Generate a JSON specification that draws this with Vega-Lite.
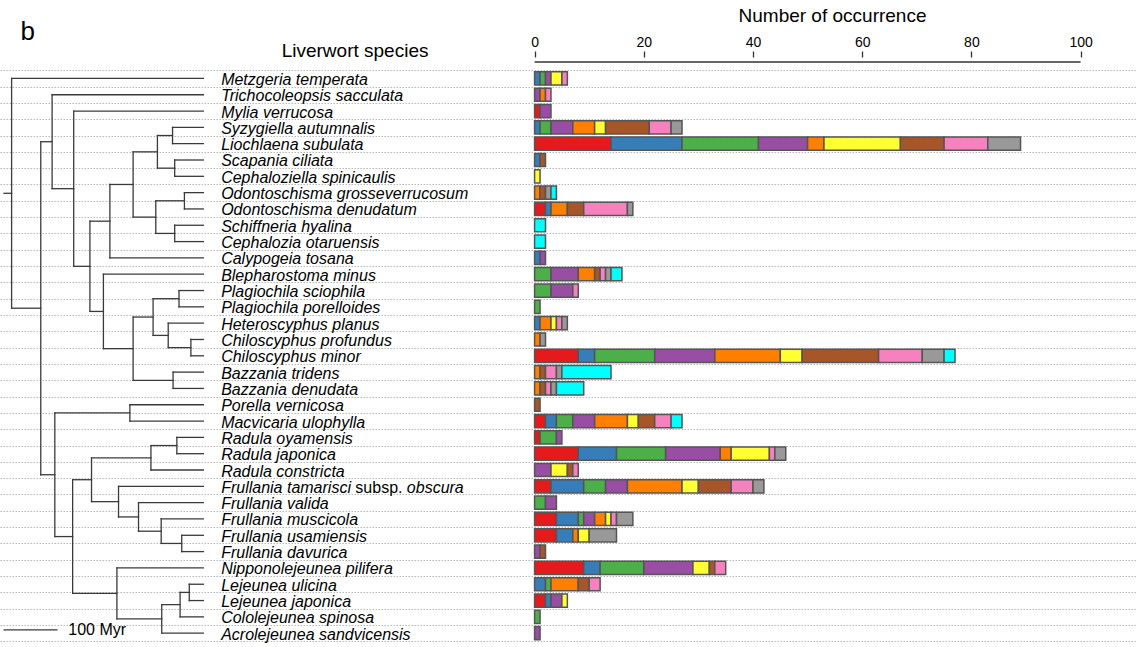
{
  "$schema": "https://vega.github.io/schema/vega-lite/v6.json",
  "width": 1137,
  "height": 590,
  "autosize": {"type": "none"},
  "padding": {"top": 57, "left": 0, "right": 0, "bottom": 0},
  "background": "white",
  "config": {"view": {"stroke": null}, "font": "Liberation Sans"},
  "resolve": {"scale": {"x": "independent"}},
  "datasets": {
    "species": [
      {"row": 0, "name": "Metzgeria temperata"},
      {"row": 1, "name": "Trichocoleopsis sacculata"},
      {"row": 2, "name": "Mylia verrucosa"},
      {"row": 3, "name": "Syzygiella autumnalis"},
      {"row": 4, "name": "Liochlaena subulata"},
      {"row": 5, "name": "Scapania ciliata"},
      {"row": 6, "name": "Cephaloziella spinicaulis"},
      {"row": 7, "name": "Odontoschisma grosseverrucosum"},
      {"row": 8, "name": "Odontoschisma denudatum"},
      {"row": 9, "name": "Schiffneria hyalina"},
      {"row": 10, "name": "Cephalozia otaruensis"},
      {"row": 11, "name": "Calypogeia tosana"},
      {"row": 12, "name": "Blepharostoma minus"},
      {"row": 13, "name": "Plagiochila sciophila"},
      {"row": 14, "name": "Plagiochila porelloides"},
      {"row": 15, "name": "Heteroscyphus planus"},
      {"row": 16, "name": "Chiloscyphus profundus"},
      {"row": 17, "name": "Chiloscyphus minor"},
      {"row": 18, "name": "Bazzania tridens"},
      {"row": 19, "name": "Bazzania denudata"},
      {"row": 20, "name": "Porella vernicosa"},
      {"row": 21, "name": "Macvicaria ulophylla"},
      {"row": 22, "name": "Radula oyamensis"},
      {"row": 23, "name": "Radula japonica"},
      {"row": 24, "name": "Radula constricta"},
      {"row": 25, "name": "Frullania tamarisci"},
      {"row": 26, "name": "Frullania valida"},
      {"row": 27, "name": "Frullania muscicola"},
      {"row": 28, "name": "Frullania usamiensis"},
      {"row": 29, "name": "Frullania davurica"},
      {"row": 30, "name": "Nipponolejeunea pilifera"},
      {"row": 31, "name": "Lejeunea ulicina"},
      {"row": 32, "name": "Lejeunea japonica"},
      {"row": 33, "name": "Cololejeunea spinosa"},
      {"row": 34, "name": "Acrolejeunea sandvicensis"}
    ],
    "counts": [
      {"row": 0, "group": "B", "n": 1}, {"row": 0, "group": "C", "n": 1}, {"row": 0, "group": "D", "n": 1}, {"row": 0, "group": "F", "n": 2}, {"row": 0, "group": "H", "n": 1},
      {"row": 1, "group": "D", "n": 1}, {"row": 1, "group": "E", "n": 1}, {"row": 1, "group": "H", "n": 1},
      {"row": 2, "group": "A", "n": 1}, {"row": 2, "group": "D", "n": 2},
      {"row": 3, "group": "B", "n": 1}, {"row": 3, "group": "C", "n": 2}, {"row": 3, "group": "D", "n": 4}, {"row": 3, "group": "E", "n": 4}, {"row": 3, "group": "F", "n": 2}, {"row": 3, "group": "G", "n": 8}, {"row": 3, "group": "H", "n": 4}, {"row": 3, "group": "I", "n": 2},
      {"row": 4, "group": "A", "n": 14}, {"row": 4, "group": "B", "n": 13}, {"row": 4, "group": "C", "n": 14}, {"row": 4, "group": "D", "n": 9}, {"row": 4, "group": "E", "n": 3}, {"row": 4, "group": "F", "n": 14}, {"row": 4, "group": "G", "n": 8}, {"row": 4, "group": "H", "n": 8}, {"row": 4, "group": "I", "n": 6},
      {"row": 5, "group": "B", "n": 1}, {"row": 5, "group": "G", "n": 1},
      {"row": 6, "group": "F", "n": 1},
      {"row": 7, "group": "E", "n": 1}, {"row": 7, "group": "G", "n": 1}, {"row": 7, "group": "I", "n": 1}, {"row": 7, "group": "J", "n": 1},
      {"row": 8, "group": "A", "n": 2}, {"row": 8, "group": "B", "n": 1}, {"row": 8, "group": "E", "n": 3}, {"row": 8, "group": "G", "n": 3}, {"row": 8, "group": "H", "n": 8}, {"row": 8, "group": "I", "n": 1},
      {"row": 9, "group": "J", "n": 2},
      {"row": 10, "group": "J", "n": 2},
      {"row": 11, "group": "B", "n": 1}, {"row": 11, "group": "D", "n": 1},
      {"row": 12, "group": "C", "n": 3}, {"row": 12, "group": "D", "n": 5}, {"row": 12, "group": "E", "n": 3}, {"row": 12, "group": "G", "n": 1}, {"row": 12, "group": "H", "n": 1}, {"row": 12, "group": "I", "n": 1}, {"row": 12, "group": "J", "n": 2},
      {"row": 13, "group": "C", "n": 3}, {"row": 13, "group": "D", "n": 4}, {"row": 13, "group": "H", "n": 1},
      {"row": 14, "group": "C", "n": 1},
      {"row": 15, "group": "B", "n": 1}, {"row": 15, "group": "E", "n": 2}, {"row": 15, "group": "F", "n": 1}, {"row": 15, "group": "H", "n": 1}, {"row": 15, "group": "I", "n": 1},
      {"row": 16, "group": "E", "n": 1}, {"row": 16, "group": "I", "n": 1},
      {"row": 17, "group": "A", "n": 8}, {"row": 17, "group": "B", "n": 3}, {"row": 17, "group": "C", "n": 11}, {"row": 17, "group": "D", "n": 11}, {"row": 17, "group": "E", "n": 12}, {"row": 17, "group": "F", "n": 4}, {"row": 17, "group": "G", "n": 14}, {"row": 17, "group": "H", "n": 8}, {"row": 17, "group": "I", "n": 4}, {"row": 17, "group": "J", "n": 2},
      {"row": 18, "group": "E", "n": 1}, {"row": 18, "group": "G", "n": 1}, {"row": 18, "group": "H", "n": 2}, {"row": 18, "group": "I", "n": 1}, {"row": 18, "group": "J", "n": 9},
      {"row": 19, "group": "E", "n": 1}, {"row": 19, "group": "G", "n": 1}, {"row": 19, "group": "H", "n": 1}, {"row": 19, "group": "I", "n": 1}, {"row": 19, "group": "J", "n": 5},
      {"row": 20, "group": "G", "n": 1},
      {"row": 21, "group": "A", "n": 2}, {"row": 21, "group": "B", "n": 2}, {"row": 21, "group": "C", "n": 3}, {"row": 21, "group": "D", "n": 4}, {"row": 21, "group": "E", "n": 6}, {"row": 21, "group": "F", "n": 2}, {"row": 21, "group": "G", "n": 3}, {"row": 21, "group": "H", "n": 3}, {"row": 21, "group": "J", "n": 2},
      {"row": 22, "group": "A", "n": 1}, {"row": 22, "group": "C", "n": 3}, {"row": 22, "group": "D", "n": 1},
      {"row": 23, "group": "A", "n": 8}, {"row": 23, "group": "B", "n": 7}, {"row": 23, "group": "C", "n": 9}, {"row": 23, "group": "D", "n": 10}, {"row": 23, "group": "E", "n": 2}, {"row": 23, "group": "F", "n": 7}, {"row": 23, "group": "H", "n": 1}, {"row": 23, "group": "I", "n": 2},
      {"row": 24, "group": "D", "n": 3}, {"row": 24, "group": "F", "n": 3}, {"row": 24, "group": "G", "n": 1}, {"row": 24, "group": "H", "n": 1},
      {"row": 25, "group": "A", "n": 3}, {"row": 25, "group": "B", "n": 6}, {"row": 25, "group": "C", "n": 4}, {"row": 25, "group": "D", "n": 4}, {"row": 25, "group": "E", "n": 10}, {"row": 25, "group": "F", "n": 3}, {"row": 25, "group": "G", "n": 6}, {"row": 25, "group": "H", "n": 4}, {"row": 25, "group": "I", "n": 2},
      {"row": 26, "group": "C", "n": 2}, {"row": 26, "group": "D", "n": 2},
      {"row": 27, "group": "A", "n": 4}, {"row": 27, "group": "B", "n": 4}, {"row": 27, "group": "C", "n": 1}, {"row": 27, "group": "D", "n": 2}, {"row": 27, "group": "E", "n": 2}, {"row": 27, "group": "F", "n": 1}, {"row": 27, "group": "H", "n": 1}, {"row": 27, "group": "I", "n": 3},
      {"row": 28, "group": "A", "n": 4}, {"row": 28, "group": "B", "n": 3}, {"row": 28, "group": "E", "n": 1}, {"row": 28, "group": "F", "n": 2}, {"row": 28, "group": "I", "n": 5},
      {"row": 29, "group": "D", "n": 1}, {"row": 29, "group": "G", "n": 1},
      {"row": 30, "group": "A", "n": 9}, {"row": 30, "group": "B", "n": 3}, {"row": 30, "group": "C", "n": 8}, {"row": 30, "group": "D", "n": 9}, {"row": 30, "group": "F", "n": 3}, {"row": 30, "group": "G", "n": 1}, {"row": 30, "group": "H", "n": 2},
      {"row": 31, "group": "B", "n": 2}, {"row": 31, "group": "C", "n": 1}, {"row": 31, "group": "E", "n": 5}, {"row": 31, "group": "G", "n": 2}, {"row": 31, "group": "H", "n": 2},
      {"row": 32, "group": "A", "n": 2}, {"row": 32, "group": "B", "n": 1}, {"row": 32, "group": "D", "n": 2}, {"row": 32, "group": "F", "n": 1},
      {"row": 33, "group": "C", "n": 1},
      {"row": 34, "group": "D", "n": 1}
    ],
    "tree": [
      {"a0": 369, "a1": 355, "r0": 7.042, "r1": 7.042},
      {"a0": 355, "a1": 355, "r0": 0, "r1": 14.084},
      {"a0": 355, "a1": 0, "r0": 0, "r1": 0},
      {"a0": 355, "a1": 301, "r0": 14.084, "r1": 14.084},
      {"a0": 301, "a1": 301, "r0": 3.879, "r1": 24.289},
      {"a0": 301, "a1": 280, "r0": 3.879, "r1": 3.879},
      {"a0": 280, "a1": 280, "r0": 1, "r1": 6.758},
      {"a0": 280, "a1": 0, "r0": 1, "r1": 1},
      {"a0": 280, "a1": 240, "r0": 6.758, "r1": 6.758},
      {"a0": 240, "a1": 240, "r0": 2, "r1": 11.516},
      {"a0": 240, "a1": 0, "r0": 2, "r1": 2},
      {"a0": 240, "a1": 210, "r0": 11.516, "r1": 11.516},
      {"a0": 210, "a1": 210, "r0": 8.75, "r1": 14.281},
      {"a0": 210, "a1": 173, "r0": 8.75, "r1": 8.75},
      {"a0": 173, "a1": 173, "r0": 6.5, "r1": 11},
      {"a0": 173, "a1": 0, "r0": 11, "r1": 11},
      {"a0": 173, "a1": 130, "r0": 6.5, "r1": 6.5},
      {"a0": 130, "a1": 130, "r0": 4.5, "r1": 8.5},
      {"a0": 130, "a1": 85, "r0": 4.5, "r1": 4.5},
      {"a0": 85, "a1": 85, "r0": 3.5, "r1": 5.5},
      {"a0": 85, "a1": 57, "r0": 3.5, "r1": 3.5},
      {"a0": 57, "a1": 57, "r0": 3, "r1": 4},
      {"a0": 57, "a1": 0, "r0": 3, "r1": 3},
      {"a0": 57, "a1": 0, "r0": 4, "r1": 4},
      {"a0": 85, "a1": 53, "r0": 5.5, "r1": 5.5},
      {"a0": 53, "a1": 53, "r0": 5, "r1": 6},
      {"a0": 53, "a1": 0, "r0": 5, "r1": 5},
      {"a0": 53, "a1": 0, "r0": 6, "r1": 6},
      {"a0": 130, "a1": 88, "r0": 8.5, "r1": 8.5},
      {"a0": 88, "a1": 88, "r0": 7.5, "r1": 9.5},
      {"a0": 88, "a1": 35, "r0": 7.5, "r1": 7.5},
      {"a0": 35, "a1": 35, "r0": 7, "r1": 8},
      {"a0": 35, "a1": 0, "r0": 7, "r1": 7},
      {"a0": 35, "a1": 0, "r0": 8, "r1": 8},
      {"a0": 88, "a1": 53, "r0": 9.5, "r1": 9.5},
      {"a0": 53, "a1": 53, "r0": 9, "r1": 10},
      {"a0": 53, "a1": 0, "r0": 9, "r1": 9},
      {"a0": 53, "a1": 0, "r0": 10, "r1": 10},
      {"a0": 210, "a1": 185, "r0": 14.281, "r1": 14.281},
      {"a0": 185, "a1": 185, "r0": 12, "r1": 16.563},
      {"a0": 185, "a1": 0, "r0": 12, "r1": 12},
      {"a0": 185, "a1": 130, "r0": 16.563, "r1": 16.563},
      {"a0": 130, "a1": 130, "r0": 14.625, "r1": 18.5},
      {"a0": 130, "a1": 93, "r0": 14.625, "r1": 14.625},
      {"a0": 93, "a1": 93, "r0": 13.5, "r1": 15.75},
      {"a0": 93, "a1": 45, "r0": 13.5, "r1": 13.5},
      {"a0": 45, "a1": 45, "r0": 13, "r1": 14},
      {"a0": 45, "a1": 0, "r0": 13, "r1": 13},
      {"a0": 45, "a1": 0, "r0": 14, "r1": 14},
      {"a0": 93, "a1": 65, "r0": 15.75, "r1": 15.75},
      {"a0": 65, "a1": 65, "r0": 15, "r1": 16.5},
      {"a0": 65, "a1": 0, "r0": 15, "r1": 15},
      {"a0": 65, "a1": 23, "r0": 16.5, "r1": 16.5},
      {"a0": 23, "a1": 23, "r0": 16, "r1": 17},
      {"a0": 23, "a1": 0, "r0": 16, "r1": 16},
      {"a0": 23, "a1": 0, "r0": 17, "r1": 17},
      {"a0": 130, "a1": 56, "r0": 18.5, "r1": 18.5},
      {"a0": 56, "a1": 56, "r0": 18, "r1": 19},
      {"a0": 56, "a1": 0, "r0": 18, "r1": 18},
      {"a0": 56, "a1": 0, "r0": 19, "r1": 19},
      {"a0": 301, "a1": 275, "r0": 24.289, "r1": 24.289},
      {"a0": 275, "a1": 275, "r0": 20.5, "r1": 28.078},
      {"a0": 275, "a1": 136, "r0": 20.5, "r1": 20.5},
      {"a0": 136, "a1": 136, "r0": 20, "r1": 21},
      {"a0": 136, "a1": 0, "r0": 20, "r1": 20},
      {"a0": 136, "a1": 0, "r0": 21, "r1": 21},
      {"a0": 275, "a1": 242, "r0": 28.078, "r1": 28.078},
      {"a0": 242, "a1": 242, "r0": 24.594, "r1": 31.563},
      {"a0": 242, "a1": 207, "r0": 24.594, "r1": 24.594},
      {"a0": 207, "a1": 207, "r0": 23.25, "r1": 25.938},
      {"a0": 207, "a1": 97, "r0": 23.25, "r1": 23.25},
      {"a0": 97, "a1": 97, "r0": 22.5, "r1": 24},
      {"a0": 97, "a1": 49, "r0": 22.5, "r1": 22.5},
      {"a0": 49, "a1": 49, "r0": 22, "r1": 23},
      {"a0": 49, "a1": 0, "r0": 22, "r1": 22},
      {"a0": 49, "a1": 0, "r0": 23, "r1": 23},
      {"a0": 97, "a1": 0, "r0": 24, "r1": 24},
      {"a0": 207, "a1": 157, "r0": 25.938, "r1": 25.938},
      {"a0": 157, "a1": 157, "r0": 25, "r1": 26.875},
      {"a0": 157, "a1": 0, "r0": 25, "r1": 25},
      {"a0": 157, "a1": 120, "r0": 26.875, "r1": 26.875},
      {"a0": 120, "a1": 120, "r0": 26, "r1": 27.75},
      {"a0": 120, "a1": 0, "r0": 26, "r1": 26},
      {"a0": 120, "a1": 78, "r0": 27.75, "r1": 27.75},
      {"a0": 78, "a1": 78, "r0": 27, "r1": 28.5},
      {"a0": 78, "a1": 0, "r0": 27, "r1": 27},
      {"a0": 78, "a1": 40, "r0": 28.5, "r1": 28.5},
      {"a0": 40, "a1": 40, "r0": 28, "r1": 29},
      {"a0": 40, "a1": 0, "r0": 28, "r1": 28},
      {"a0": 40, "a1": 0, "r0": 29, "r1": 29},
      {"a0": 242, "a1": 160, "r0": 31.563, "r1": 31.563},
      {"a0": 160, "a1": 160, "r0": 30, "r1": 33.125},
      {"a0": 160, "a1": 0, "r0": 30, "r1": 30},
      {"a0": 160, "a1": 77, "r0": 33.125, "r1": 33.125},
      {"a0": 77, "a1": 77, "r0": 32.25, "r1": 34},
      {"a0": 77, "a1": 0, "r0": 34, "r1": 34},
      {"a0": 77, "a1": 43, "r0": 32.25, "r1": 32.25},
      {"a0": 43, "a1": 43, "r0": 31.5, "r1": 33},
      {"a0": 43, "a1": 0, "r0": 33, "r1": 33},
      {"a0": 43, "a1": 26, "r0": 31.5, "r1": 31.5},
      {"a0": 26, "a1": 26, "r0": 31, "r1": 32},
      {"a0": 26, "a1": 0, "r0": 31, "r1": 31},
      {"a0": 26, "a1": 0, "r0": 32, "r1": 32}
    ]
  },
  "layer": [
    {
      "data": {"name": "counts"},
      "mark": {"type": "bar", "orient": "horizontal", "height": 13.2, "stroke": "#555555", "strokeWidth": 1.5},
      "encoding": {
        "y": {"field": "row", "type": "quantitative",
              "scale": {"domain": [-1.006, 34.54], "reverse": true, "nice": false, "zero": false},
              "axis": {"values": [-0.5, 0.5, 1.5, 2.5, 3.5, 4.5, 5.5, 6.5, 7.5, 8.5, 9.5, 10.5, 11.5, 12.5, 13.5, 14.5, 15.5, 16.5, 17.5, 18.5, 19.5, 20.5, 21.5, 22.5, 23.5, 24.5, 25.5, 26.5, 27.5, 28.5, 29.5, 30.5, 31.5, 32.5, 33.5, 34.5],
                       "tickCount": 100,
                       "grid": true, "gridColor": "#b8b8b8", "gridDash": [1.5, 1.5], "gridWidth": 1, "gridOpacity": 1,
                       "labels": false, "ticks": false, "domain": false, "title": null}},
        "x": {"field": "n", "type": "quantitative", "stack": "zero",
              "scale": {"domain": [-97.91, 110.33], "nice": false, "zero": false},
              "axis": {"orient": "top", "values": [0, 20, 40, 60, 80, 100], "grid": false, "domain": false,
                       "title": "Number of occurrence", "titleFontSize": 19, "titleFontWeight": "normal", "titleColor": "#000000",
                       "titleX": 832, "titleY": -36, "titleBaseline": "alphabetic",
                       "labelFontSize": 14, "labelColor": "#000000", "labelPadding": 1.5, "labelFlush": false,
                       "tickSize": 6, "tickColor": "#333333", "tickWidth": 1.3}},
        "color": {"field": "group", "type": "nominal", "legend": null,
                  "scale": {"domain": ["A", "B", "C", "D", "E", "F", "G", "H", "I", "J"],
                            "range": ["#E41A1C", "#377EB8", "#4DAF4A", "#984EA3", "#FF7F00", "#FFFF33", "#A65628", "#F781BF", "#999999", "#00FFFF"]}},
        "order": {"field": "group", "sort": "ascending"}
      }
    },
    {
      "data": {"values": [{}]},
      "mark": {"type": "rule", "color": "#333333", "strokeWidth": 1.3},
      "encoding": {
        "x": {"datum": 0, "type": "quantitative", "scale": {"domain": [-97.91, 110.33], "nice": false, "zero": false}, "axis": null},
        "x2": {"datum": 100},
        "y": {"datum": -1.006, "type": "quantitative", "scale": {"domain": [-1.006, 34.54], "reverse": true, "nice": false, "zero": false}}
      }
    },
    {
      "data": {"name": "tree"},
      "mark": {"type": "rule", "color": "#3a3a3a", "strokeWidth": 1.3, "strokeCap": "square"},
      "encoding": {
        "x": {"field": "a0", "type": "quantitative", "scale": {"domain": [-1729, 376.5], "reverse": true, "nice": false, "zero": false}, "axis": null},
        "x2": {"field": "a1"},
        "y": {"field": "r0", "type": "quantitative", "scale": {"domain": [-1.006, 34.54], "reverse": true, "nice": false, "zero": false}},
        "y2": {"field": "r1"}
      }
    },
    {
      "data": {"values": [{}]},
      "mark": {"type": "rule", "color": "#3a3a3a", "strokeWidth": 1.3},
      "encoding": {
        "x": {"datum": 370, "type": "quantitative", "scale": {"domain": [-1729, 376.5], "reverse": true, "nice": false, "zero": false}, "axis": null},
        "x2": {"datum": 270},
        "y": {"datum": 33.8, "type": "quantitative", "scale": {"domain": [-1.006, 34.54], "reverse": true, "nice": false, "zero": false}}
      }
    },
    {
      "data": {"values": [{"label": "100 Myr"}]},
      "mark": {"type": "text", "align": "left", "baseline": "alphabetic", "fontSize": 16, "color": "#000000"},
      "encoding": {
        "x": {"datum": 250, "type": "quantitative", "scale": {"domain": [-1729, 376.5], "reverse": true, "nice": false, "zero": false}, "axis": null},
        "y": {"datum": 34.11, "type": "quantitative", "scale": {"domain": [-1.006, 34.54], "reverse": true, "nice": false, "zero": false}},
        "text": {"field": "label"}
      }
    },
    {
      "data": {"name": "species"},
      "mark": {"type": "text", "align": "left", "baseline": "alphabetic", "dy": 6.5, "fontSize": 16, "fontStyle": "italic", "color": "#000000"},
      "encoding": {
        "x": {"datum": -33, "type": "quantitative", "scale": {"domain": [-1729, 376.5], "reverse": true, "nice": false, "zero": false}, "axis": null},
        "y": {"field": "row", "type": "quantitative", "scale": {"domain": [-1.006, 34.54], "reverse": true, "nice": false, "zero": false}},
        "text": {"field": "name"}
      }
    },
    {
      "data": {"values": [{"label": "subsp."}]},
      "mark": {"type": "text", "align": "left", "baseline": "alphabetic", "dy": 6.5, "dx": 134.2, "fontSize": 16, "color": "#000000"},
      "encoding": {
        "x": {"datum": -33, "type": "quantitative", "scale": {"domain": [-1729, 376.5], "reverse": true, "nice": false, "zero": false}, "axis": null},
        "y": {"datum": 25, "type": "quantitative", "scale": {"domain": [-1.006, 34.54], "reverse": true, "nice": false, "zero": false}},
        "text": {"field": "label"}
      }
    },
    {
      "data": {"values": [{"label": "obscura"}]},
      "mark": {"type": "text", "align": "left", "baseline": "alphabetic", "dy": 6.5, "dx": 185.7, "fontSize": 16, "fontStyle": "italic", "color": "#000000"},
      "encoding": {
        "x": {"datum": -33, "type": "quantitative", "scale": {"domain": [-1729, 376.5], "reverse": true, "nice": false, "zero": false}, "axis": null},
        "y": {"datum": 25, "type": "quantitative", "scale": {"domain": [-1.006, 34.54], "reverse": true, "nice": false, "zero": false}},
        "text": {"field": "label"}
      }
    },
    {
      "data": {"values": [{"label": "Liverwort species"}]},
      "mark": {"type": "text", "align": "center", "baseline": "alphabetic", "fontSize": 19, "color": "#000000"},
      "encoding": {
        "x": {"datum": -281, "type": "quantitative", "scale": {"domain": [-1729, 376.5], "reverse": true, "nice": false, "zero": false}, "axis": null},
        "y": {"datum": -1.325, "type": "quantitative", "scale": {"domain": [-1.006, 34.54], "reverse": true, "nice": false, "zero": false}},
        "text": {"field": "label"}
      }
    },
    {
      "data": {"values": [{"label": "b"}]},
      "mark": {"type": "text", "align": "left", "baseline": "alphabetic", "fontSize": 26, "color": "#000000"},
      "encoding": {
        "x": {"datum": 338.5, "type": "quantitative", "scale": {"domain": [-1729, 376.5], "reverse": true, "nice": false, "zero": false}, "axis": null},
        "y": {"datum": -2.33, "type": "quantitative", "scale": {"domain": [-1.006, 34.54], "reverse": true, "nice": false, "zero": false}},
        "text": {"field": "label"}
      }
    }
  ]
}
